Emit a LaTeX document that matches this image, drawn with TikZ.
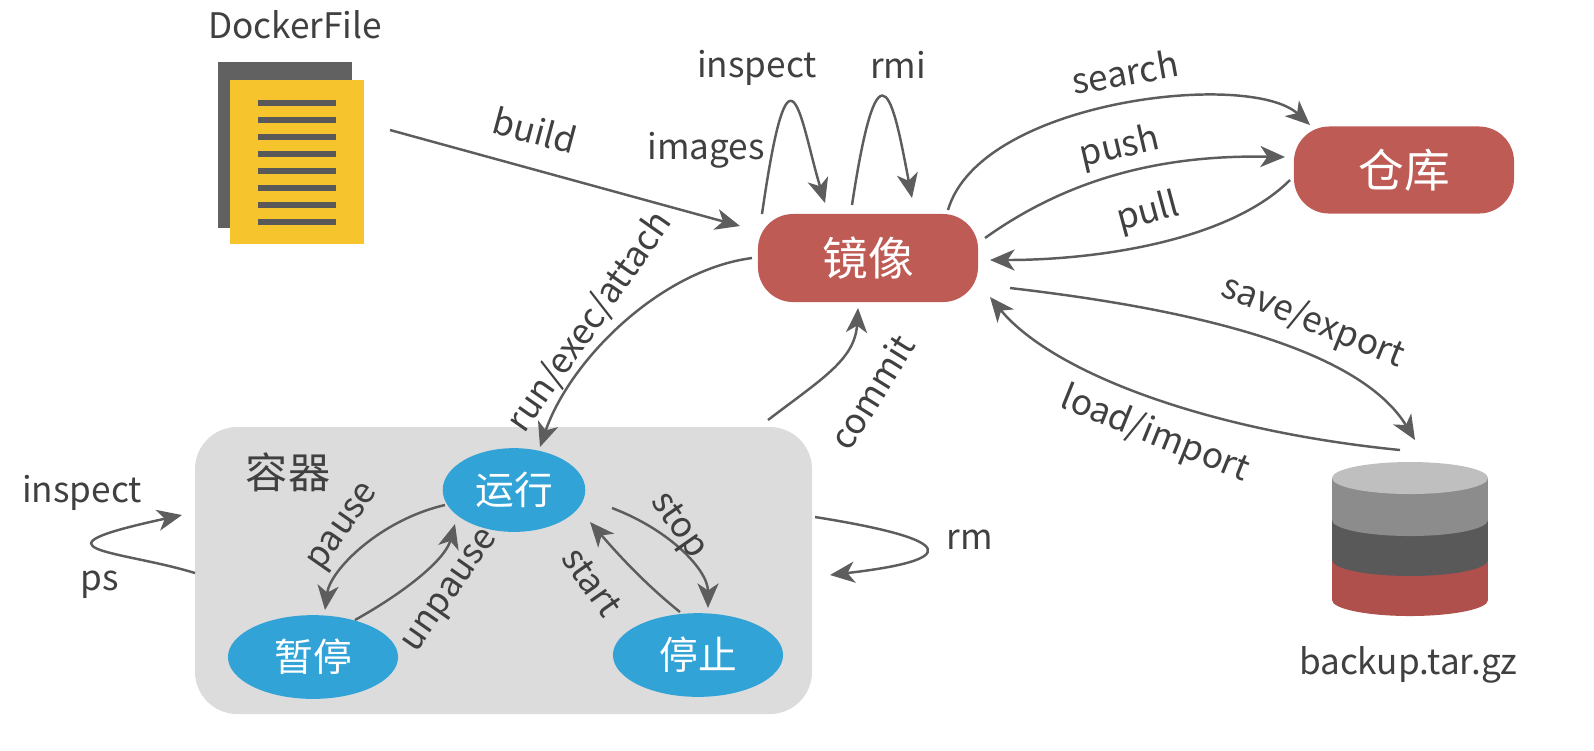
\documentclass[tikz,border=0pt]{standalone}
\usepackage{fontspec}
\setmainfont{Noto Sans CJK SC}
\usetikzlibrary{shapes.geometric,arrows.meta}
\definecolor{red1}{HTML}{BE5B55}
\definecolor{red2}{HTML}{B0504C}
\definecolor{blue1}{HTML}{32A3D6}
\definecolor{gray1}{HTML}{DCDCDC}
\definecolor{yel}{HTML}{F6C52E}
\definecolor{txt}{HTML}{404040}
\begin{document}
\begin{tikzpicture}[x=0.01cm,y=-0.01cm,
  lab/.style={text=txt,font=\fontsize{10}{12}\selectfont,inner sep=0},
  arr/.style={draw=txt!85,line width=0.7pt,-{Stealth[length=7pt,width=6pt,inset=2pt]}},
  box/.style={fill=red1,rounded corners=10pt,text=white,font=\fontsize{13}{15}\selectfont},
  ell/.style={ellipse,fill=blue1,text=white,font=\fontsize{11}{13}\selectfont}]
\useasboundingbox (0,0) rectangle (1594,750);
% Dockerfile
\fill[black!62] (218,62) rectangle (352,228);
\fill[yel] (230,80) rectangle (364,244);
\foreach \y in {103,120,137,154,171,188,205,222} \draw[line width=1.5pt,black!65] (258,\y)--(336,\y);
\node[lab] (df) at (295,25) {DockerFile};
\coordinate (dfo) at (390,130);
% boxes
\node[box,minimum width=2.2cm,minimum height=0.88cm] (img) at (868,258) {镜像};
\node[box,minimum width=2.2cm,minimum height=0.87cm] (repo) at (1404,170) {仓库};
\fill[gray1,rounded corners=12pt] (195,427) rectangle (812,714);
\node[lab,font=\fontsize{12}{14}\selectfont] (ctn) at (288,472) {容器};
\node[ell,minimum width=1.4cm,minimum height=0.7cm] (run) at (514,490) {运行};
\node[ell,minimum width=1.7cm,minimum height=0.8cm] (pau) at (313,657) {暂停};
\node[ell,minimum width=1.7cm,minimum height=0.8cm] (stp) at (698,655) {停止};
% cylinder
\fill[red2] (1332,560) rectangle (1488,600);
\fill[red2] (1410,600) ellipse (78 and 16);
\fill[black!65] (1332,520) rectangle (1488,560);
\fill[black!65] (1410,560) ellipse (78 and 16);
\fill[black!45] (1332,478) rectangle (1488,520);
\fill[black!45] (1410,520) ellipse (78 and 16);
\fill[black!25] (1410,478) ellipse (78 and 16);
\node[lab] (bk) at (1408,665) {backup.tar.gz};
% arrows
\draw[arr] (dfo) -- (740,226);
\node[lab,rotate=-15] at (535,130) {build};
\draw[arr] (762,214) .. controls (790,20) and (800,120) .. (825,203);
\node[lab] at (757,68) {inspect};
\node[lab] at (706,150) {images};
\draw[arr] (852,205) .. controls (880,20) and (895,110) .. (912,198);
\node[lab] at (898,65) {rmi};
\draw[arr] (948,210) .. controls (980,100) and (1250,70) .. (1310,125);
\node[lab,rotate=10] at (1125,72) {search};
\draw[arr] (985,238) .. controls (1080,170) and (1180,155) .. (1285,157);
\node[lab,rotate=13] at (1120,148) {push};
\draw[arr] (1290,180) .. controls (1230,240) and (1100,260) .. (990,260);
\node[lab,rotate=15] at (1148,213) {pull};
\draw[arr] (1010,288) .. controls (1200,310) and (1360,350) .. (1415,440);
\node[lab,rotate=-22] at (1313,322) {save/export};
\draw[arr] (1400,450) .. controls (1200,430) and (1050,370) .. (990,297);
\node[lab,rotate=-22] at (1155,435) {load/import};
\draw[arr] (752,258) .. controls (660,270) and (570,360) .. (540,447);
\node[lab,rotate=55] at (590,322) {run/exec/attach};
\draw[arr] (768,420) .. controls (820,380) and (855,360) .. (858,308);
\node[lab,rotate=58] at (872,392) {commit};
\draw[arr] (815,517) .. controls (960,540) and (960,560) .. (830,575);
\node[lab] at (970,540) {rm};
\draw[arr] (195,573) .. controls (120,550) and (20,550) .. (182,515);
\node[lab] at (82,493) {inspect};
\node[lab] at (100,585) {ps};
\draw[arr] (445,505) .. controls (380,520) and (330,570) .. (325,610);
\node[lab,rotate=55] at (345,528) {pause};
\draw[arr] (355,620) .. controls (405,592) and (445,560) .. (455,524);
\node[lab,rotate=55] at (452,592) {unpause};
\draw[arr] (612,508) .. controls (670,530) and (708,570) .. (708,608);
\node[lab,rotate=-55] at (678,526) {stop};
\draw[arr] (680,612) .. controls (640,580) and (610,545) .. (590,522);
\node[lab,rotate=-55] at (592,582) {start};
\end{tikzpicture}
\end{document}
